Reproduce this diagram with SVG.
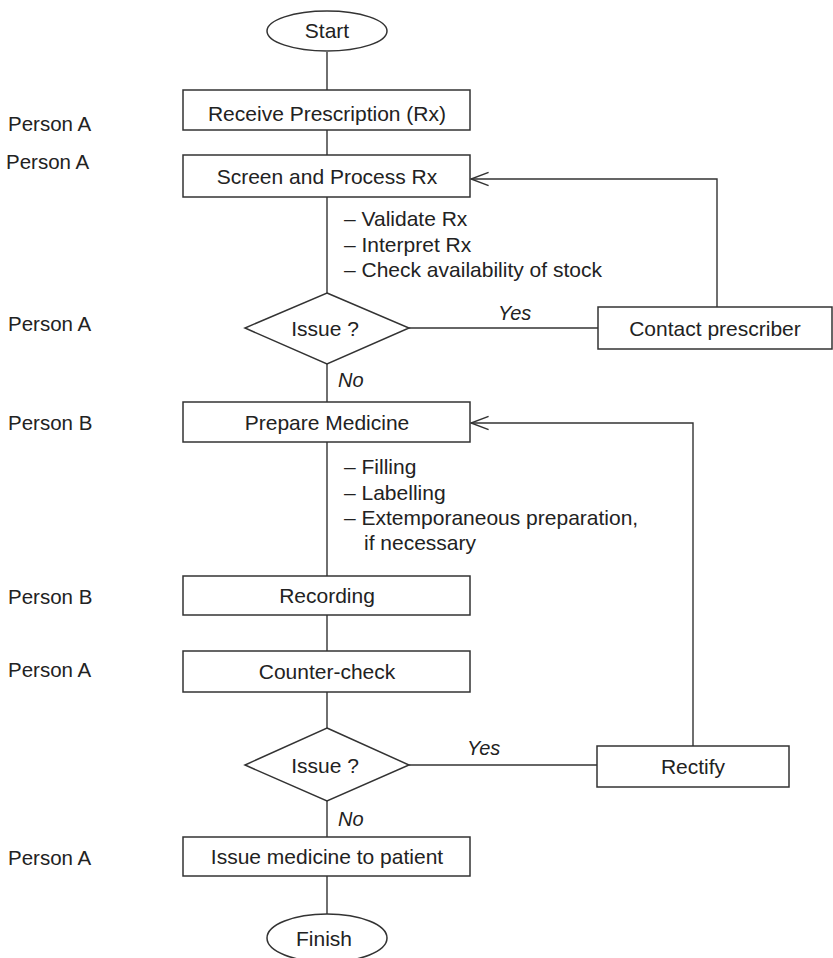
<svg xmlns="http://www.w3.org/2000/svg" width="833" height="958" viewBox="0 0 833 958">
<style>
  .box { fill: #ffffff; stroke: #333333; stroke-width: 1.5; }
  .ln { fill: none; stroke: #333333; stroke-width: 1.4; }
  .t { font-family: "Liberation Sans", Arial, sans-serif; font-size: 21px; fill: #222222; }
  .c { text-anchor: middle; }
  .i { font-style: italic; font-size: 20px; }
  .p { font-family: "Liberation Sans", Arial, sans-serif; font-size: 20.5px; fill: #222222; }
</style>
<defs>
  <marker id="arr" markerUnits="userSpaceOnUse" markerWidth="22" markerHeight="20" viewBox="-18 -8 20 16" refX="0" refY="0" orient="auto">
    <path d="M-16,-6 L0,0 L-16,6" fill="none" stroke="#333333" stroke-width="1.4"/>
  </marker>
</defs>
<rect width="833" height="958" fill="#ffffff"/>

<g id="connectors">
  <path class="ln" d="M327,52 V90"/>
  <path class="ln" d="M327,130 V155"/>
  <path class="ln" d="M327,197 V293"/>
  <path class="ln" d="M409,328 H598"/>
  <path class="ln" d="M717,307 V179 H471" marker-end="url(#arr)"/>
  <path class="ln" d="M327,364 V402"/>
  <path class="ln" d="M327,442 V576"/>
  <path class="ln" d="M327,615 V651"/>
  <path class="ln" d="M327,692 V728"/>
  <path class="ln" d="M409,765 H597"/>
  <path class="ln" d="M693,746 V423 H471" marker-end="url(#arr)"/>
  <path class="ln" d="M327,801 V837"/>
  <path class="ln" d="M327,876 V914"/>
  <text class="t i" x="498" y="320">Yes</text>
  <text class="t i" x="338" y="387">No</text>
  <text class="t i" x="467" y="755">Yes</text>
  <text class="t i" x="338" y="826">No</text>
</g>

<g id="start">
  <ellipse class="box" cx="327" cy="31" rx="60" ry="20"/>
  <text class="t c" x="327" y="38">Start</text>
</g>
<g id="receive">
  <rect class="box" x="183" y="90" width="287" height="40"/>
  <text class="t c" x="327" y="121">Receive Prescription (Rx)</text>
</g>
<g id="screen">
  <rect class="box" x="183" y="155" width="287" height="42"/>
  <text class="t c" x="327" y="184">Screen and Process Rx</text>
</g>
<g id="screen-notes">
  <text class="t" x="344" y="226">– Validate Rx</text>
  <text class="t" x="344" y="252">– Interpret Rx</text>
  <text class="t" x="344" y="277">– Check availability of stock</text>
</g>
<g id="issue1">
  <polygon class="box" points="327,293 409,328 327,364 245,328"/>
  <text class="t c" x="325" y="336">Issue ?</text>
</g>
<g id="contact">
  <rect class="box" x="598" y="307" width="234" height="42"/>
  <text class="t c" x="715" y="336">Contact prescriber</text>
</g>
<g id="prepare">
  <rect class="box" x="183" y="402" width="287" height="40"/>
  <text class="t c" x="327" y="430">Prepare Medicine</text>
</g>
<g id="prepare-notes">
  <text class="t" x="344" y="474">– Filling</text>
  <text class="t" x="344" y="500">– Labelling</text>
  <text class="t" x="344" y="525">– Extemporaneous preparation,</text>
  <text class="t" x="364" y="550">if necessary</text>
</g>
<g id="recording">
  <rect class="box" x="183" y="576" width="287" height="39"/>
  <text class="t c" x="327" y="603">Recording</text>
</g>
<g id="countercheck">
  <rect class="box" x="183" y="651" width="287" height="41"/>
  <text class="t c" x="327" y="679">Counter-check</text>
</g>
<g id="issue2">
  <polygon class="box" points="327,728 409,765 327,801 245,765"/>
  <text class="t c" x="325" y="773">Issue ?</text>
</g>
<g id="rectify">
  <rect class="box" x="597" y="746" width="192" height="41"/>
  <text class="t c" x="693" y="774">Rectify</text>
</g>
<g id="issue-medicine">
  <rect class="box" x="183" y="837" width="287" height="39"/>
  <text class="t c" x="327" y="864">Issue medicine to patient</text>
</g>
<g id="finish">
  <ellipse class="box" cx="327" cy="938" rx="60" ry="24"/>
  <text class="t c" x="324" y="946">Finish</text>
</g>

<g id="roles">
  <text class="p" x="8" y="131">Person A</text>
  <text class="p" x="6" y="169">Person A</text>
  <text class="p" x="8" y="331">Person A</text>
  <text class="p" x="8" y="430">Person B</text>
  <text class="p" x="8" y="604">Person B</text>
  <text class="p" x="8" y="677">Person A</text>
  <text class="p" x="8" y="865">Person A</text>
</g>
</svg>
